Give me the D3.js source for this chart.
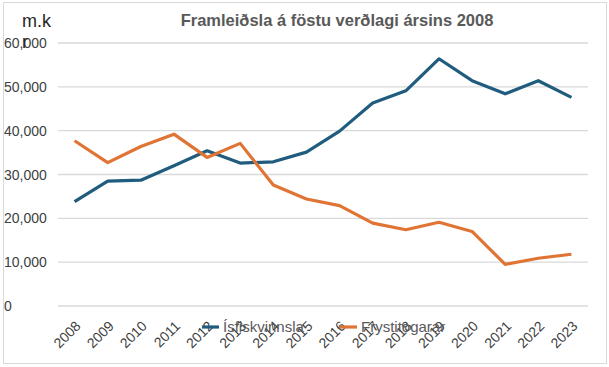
<!DOCTYPE html>
<html>
<head>
<meta charset="utf-8">
<script src="https://cdn.jsdelivr.net/npm/d3@7"></script>
<style>
  body { margin: 0; background: #fff; }
  svg { display: block; font-family: "Liberation Sans", Arial, sans-serif; }
</style>
</head>
<body>
<svg width="609" height="367"></svg>
<script>
var years = ["2008","2009","2010","2011","2012","2013","2014","2015","2016","2017","2018","2019","2020","2021","2022","2023"];
var isfiskvinnsla = [23800, 28500, 28700, 32000, 35400, 32600, 32900, 35100, 39900, 46300, 49100, 56400, 51400, 48400, 51400, 47600];
var frystitogarar = [37700, 32700, 36400, 39200, 33900, 37100, 27600, 24400, 22900, 18900, 17400, 19100, 17000, 9500, 10900, 11800];
var yTicks = [0, 10000, 20000, 30000, 40000, 50000, 60000];

var seriesNames = ["Ísfiskvinnsla", "Frystitogarar"];
var colors = ["#1f5c7e", "#e07434"];

var svg = d3.select("svg");

// frame
svg.append("rect")
    .attr("x", 3.5).attr("y", 2.5)
    .attr("width", 603).attr("height", 361)
    .attr("fill", "none")
    .attr("stroke", "#d9d9d9");

var margin = {top: 43, left: 58, right: 21, bottom: 61};
var width = 609 - margin.left - margin.right,
    height = 367 - margin.top - margin.bottom;

var x = d3.scaleBand().domain(years).range([0, width]).padding(0);
var y = d3.scaleLinear().domain([0, 60000]).range([height, 0]);

var g = svg.append("g")
    .attr("transform", "translate(" + margin.left + "," + margin.top + ")");

// gridlines
g.selectAll(".grid")
    .data(yTicks)
    .enter().append("line")
    .attr("x1", 0).attr("x2", width)
    .attr("y1", function(d) { return y(d); })
    .attr("y2", function(d) { return y(d); })
    .attr("stroke", "#d9d9d9")
    .attr("stroke-width", 1.3);

// y labels, left aligned at the frame
svg.selectAll(".ylab")
    .data(yTicks)
    .enter().append("text")
    .attr("x", 4)
    .attr("y", function(d) { return margin.top + y(d) + 5; })
    .attr("font-size", "14px")
    .attr("fill", "#404040")
    .text(function(d) { return d3.format(",")(d); });

// x axis labels
var xAxis = g.append("g")
    .attr("transform", "translate(0," + height + ")")
    .call(d3.axisBottom(x).tickSize(0).tickPadding(0));
xAxis.select(".domain").remove();
xAxis.selectAll("text")
    .attr("font-size", "14px")
    .attr("font-family", "'Liberation Sans', Arial, sans-serif")
    .attr("fill", "#404040")
    .attr("text-anchor", "end")
    .attr("dy", "0")
    .attr("transform", "translate(7,21) rotate(-45)");

// lines
var line = d3.line()
    .x(function(d, i) { return x(years[i]) + x.bandwidth() / 2; })
    .y(function(d) { return y(d); });

[isfiskvinnsla, frystitogarar].forEach(function(s, i) {
    g.append("path")
        .datum(s)
        .attr("d", line)
        .attr("fill", "none")
        .attr("stroke", colors[i])
        .attr("stroke-width", 3.2)
        .attr("stroke-linejoin", "round");
});

// legend
var legendX = [202, 340];
seriesNames.forEach(function(name, i) {
    svg.append("line")
        .attr("x1", legendX[i]).attr("x2", legendX[i] + 17)
        .attr("y1", 327).attr("y2", 327)
        .attr("stroke", colors[i])
        .attr("stroke-width", 3.2);
    svg.append("text")
        .attr("x", legendX[i] + 21)
        .attr("y", 332)
        .attr("font-size", "15px")
        .attr("fill", "#595959")
        .text(name);
});

// title
svg.append("text")
    .attr("x", 337)
    .attr("y", 26)
    .attr("text-anchor", "middle")
    .attr("font-size", "16.5px")
    .attr("font-weight", "bold")
    .attr("fill", "#595959")
    .text("Framleiðsla á föstu verðlagi ársins 2008");

// unit label
svg.append("text")
    .attr("x", 22)
    .attr("y", 27)
    .attr("font-size", "18px")
    .attr("fill", "#262626")
    .text("m.k");
svg.append("text")
    .attr("x", 22)
    .attr("y", 48)
    .attr("font-size", "18px")
    .attr("fill", "#262626")
    .text("r");
</script>
</body>
</html>
